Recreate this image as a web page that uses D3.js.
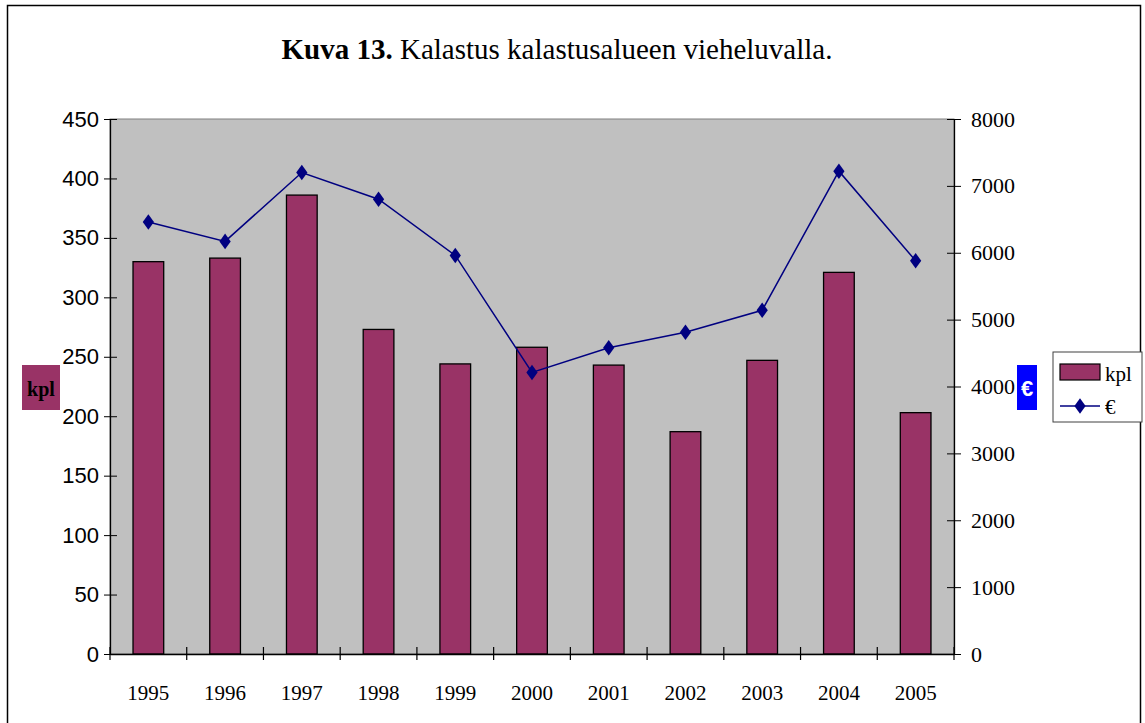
<!DOCTYPE html>
<html><head><meta charset="utf-8">
<script src="https://cdn.jsdelivr.net/npm/d3@7"></script>
<style>body{margin:0;background:#fff}svg{display:block}</style>
</head><body>
<script>
const years = ["1995","1996","1997","1998","1999","2000","2001","2002","2003","2004","2005"];
const kpl = [330, 333, 386, 273, 244, 258, 243, 187, 247, 321, 203];
const eur = [6460, 6170, 7200, 6800, 5960, 4210, 4580, 4810, 5140, 7220, 5880];
const leftTicks = [0,50,100,150,200,250,300,350,400,450];
const rightTicks = [0,1000,2000,3000,4000,5000,6000,7000,8000];

const SERIF = "'Liberation Serif', 'Times New Roman', serif";
const SANS = "'Liberation Sans', Arial, sans-serif";
const W = 1145, H = 723;
const svg = d3.select("body").append("svg").attr("width", W).attr("height", H);
svg.append("rect").attr("x",7.5).attr("y",5.5).attr("width",1133).attr("height",730)
  .attr("fill","#fff").attr("stroke","#000").attr("stroke-width",1.5);

const L = 110, R = 954, T = 119, B = 654;
const x = d3.scaleBand().domain(years).range([L, R]).paddingInner(0).paddingOuter(0);
const yL = d3.scaleLinear().domain([0,450]).range([B, T]);
const yR = d3.scaleLinear().domain([0,8000]).range([B, T]);

// plot area
svg.append("rect").attr("x",L).attr("y",T).attr("width",R-L).attr("height",B-T)
  .attr("fill","#C0C0C0").attr("stroke","#808080").attr("stroke-width",1);

// bars
const bw = x.bandwidth()*0.4;
svg.append("g").selectAll("rect").data(years).join("rect")
  .attr("x", (d)=> x(d) + x.bandwidth()/2 - bw/2)
  .attr("y", (d,i)=> yL(kpl[i]))
  .attr("width", bw)
  .attr("height", (d,i)=> B - yL(kpl[i]))
  .attr("fill","#993366").attr("stroke","#000").attr("stroke-width",1.3);

// line
const line = d3.line().x((d,i)=> x(years[i]) + x.bandwidth()/2).y(d=> yR(d));
svg.append("path").datum(eur).attr("d", line).attr("fill","none")
  .attr("stroke","#000080").attr("stroke-width",1.5);
const diamond = d3.symbol().type(d3.symbolDiamond).size(70);
svg.append("g").selectAll("path").data(eur).join("path")
  .attr("transform",(d,i)=>`translate(${x(years[i]) + x.bandwidth()/2},${yR(d)}) scale(1.25,1)`)
  .attr("d", diamond).attr("fill","#000080");

// axes
const axL = svg.append("g").attr("transform",`translate(${L},0)`)
  .call(d3.axisLeft(yL).tickValues(leftTicks).tickSize(6).tickSizeOuter(0).tickPadding(5));
axL.selectAll(".tick line").attr("x2",7).attr("x1",-6);
axL.selectAll("text").style("font-family",SANS).attr("font-size",22).attr("fill","#000");
axL.select(".domain").attr("stroke","#000").attr("stroke-width",1.3);

const axR = svg.append("g").attr("transform",`translate(${R},0)`)
  .call(d3.axisRight(yR).tickValues(rightTicks).tickFormat(d3.format("d")).tickSize(7).tickSizeOuter(0).tickPadding(10));
axR.selectAll(".tick line").attr("x1",-7).attr("x2",7);
axR.selectAll("text").style("font-family",SERIF).attr("font-size",22).attr("fill","#000");
axR.select(".domain").attr("stroke","#000").attr("stroke-width",1.3);

const axB = svg.append("g").attr("transform",`translate(0,${B})`)
  .call(d3.axisBottom(x).tickSize(0).tickSizeOuter(0).tickPadding(31));
axB.selectAll("text").style("font-family",SERIF).attr("font-size",21).attr("fill","#000");
axB.select(".domain").attr("stroke","#000").attr("stroke-width",1.3);
// category boundary ticks
const bounds = years.map(d=>x(d)).concat([R]);
svg.append("g").selectAll("line").data(bounds).join("line")
  .attr("x1",d=>d).attr("x2",d=>d).attr("y1",B-7).attr("y2",B+6)
  .attr("stroke","#000").attr("stroke-width",1.2);

// title
const title = svg.append("text").attr("x",557).attr("y",59).attr("text-anchor","middle")
  .style("font-family",SERIF).attr("font-size",29).attr("fill","#000");
title.append("tspan").style("font-family",SERIF).attr("font-weight","bold").text("Kuva 13.");
title.append("tspan").style("font-family",SERIF).text(" Kalastus kalastusalueen vieheluvalla.");

// axis title boxes
svg.append("rect").attr("x",22).attr("y",365).attr("width",38).attr("height",45).attr("fill","#993366");
svg.append("text").attr("x",41).attr("y",396).attr("text-anchor","middle")
  .style("font-family",SERIF).attr("font-weight","bold").attr("font-size",20).text("kpl");
svg.append("rect").attr("x",1017).attr("y",365).attr("width",20).attr("height",45).attr("fill","#0000FF");
svg.append("text").attr("x",1027).attr("y",396).attr("text-anchor","middle").attr("fill","#fff")
  .style("font-family",SANS).attr("font-weight","bold").attr("font-size",22).text("€");

// legend
const lg = svg.append("g");
lg.append("rect").attr("x",1053).attr("y",352).attr("width",89).attr("height",70)
  .attr("fill","#fff").attr("stroke","#404040").attr("stroke-width",1);
lg.append("rect").attr("x",1060).attr("y",364).attr("width",40).attr("height",16)
  .attr("fill","#993366").attr("stroke","#000").attr("stroke-width",1.2);
lg.append("text").attr("x",1105).attr("y",381).style("font-family",SERIF).attr("font-size",21).text("kpl");
lg.append("line").attr("x1",1060).attr("x2",1100).attr("y1",406).attr("y2",406).attr("stroke","#000080").attr("stroke-width",1.5);
lg.append("path").attr("transform","translate(1080,406) scale(1.25,1)").attr("d",diamond).attr("fill","#000080");
lg.append("text").attr("x",1105).attr("y",414).style("font-family",SERIF).attr("font-size",21).text("€");
</script>
</body></html>
